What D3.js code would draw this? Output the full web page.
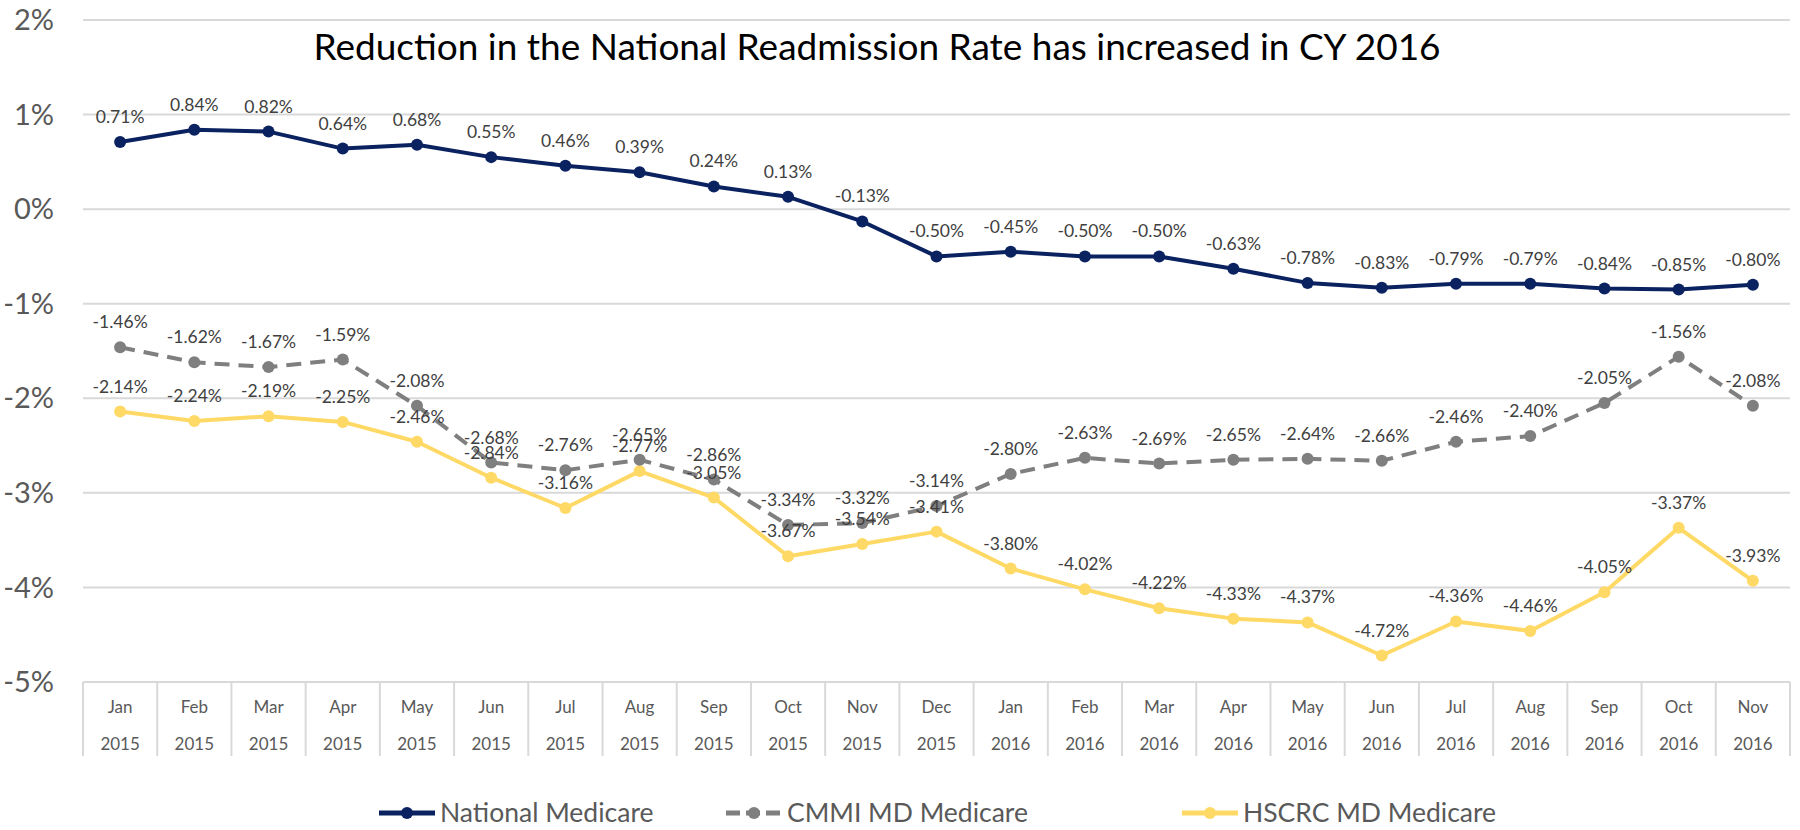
<!DOCTYPE html>
<html>
<head>
<meta charset="utf-8">
<script src="https://cdn.jsdelivr.net/npm/d3@7"></script>
<style>
  body { margin: 0; background: #fff; }
  text { font-family: Lato, "Open Sans", sans-serif; }
</style>
</head>
<body>
<script>
var months = ['Jan','Feb','Mar','Apr','May','Jun','Jul','Aug','Sep','Oct','Nov','Dec',
              'Jan','Feb','Mar','Apr','May','Jun','Jul','Aug','Sep','Oct','Nov'];
var years = ['2015','2015','2015','2015','2015','2015','2015','2015','2015','2015','2015','2015',
             '2016','2016','2016','2016','2016','2016','2016','2016','2016','2016','2016'];

var national = [0.71, 0.84, 0.82, 0.64, 0.68, 0.55, 0.46, 0.39, 0.24, 0.13, -0.13, -0.50,
                -0.45, -0.50, -0.50, -0.63, -0.78, -0.83, -0.79, -0.79, -0.84, -0.85, -0.80];
var cmmi = [-1.46, -1.62, -1.67, -1.59, -2.08, -2.68, -2.76, -2.65, -2.86, -3.34, -3.32, -3.14,
            -2.80, -2.63, -2.69, -2.65, -2.64, -2.66, -2.46, -2.40, -2.05, -1.56, -2.08];
var hscrc = [-2.14, -2.24, -2.19, -2.25, -2.46, -2.84, -3.16, -2.77, -3.05, -3.67, -3.54, -3.41,
             -3.80, -4.02, -4.22, -4.33, -4.37, -4.72, -4.36, -4.46, -4.05, -3.37, -3.93];

var yTicks = [2, 1, 0, -1, -2, -3, -4, -5];
var title = 'Reduction in the National Readmission Rate has increased in CY 2016';

var series = [
  { name: 'National Medicare', values: national, color: '#0b2260', dash: null },
  { name: 'CMMI MD Medicare', values: cmmi, color: '#7f7f7f', dash: '15,9' },
  { name: 'HSCRC MD Medicare', values: hscrc, color: '#ffd966', dash: null }
];

var W = 1800, H = 830;
var plotLeft = 83, plotRight = 1790, plotTop = 20, plotBottom = 682;

var svg = d3.select('body').append('svg').attr('width', W).attr('height', H);

var x = d3.scaleBand().domain(d3.range(months.length)).range([plotLeft, plotRight]);
var y = d3.scaleLinear().domain([-5, 2]).range([plotBottom, plotTop]);

// gridlines
svg.selectAll('line.grid').data(yTicks)
  .enter().append('line')
  .attr('class', 'grid')
  .attr('x1', plotLeft)
  .attr('x2', plotRight)
  .attr('y1', function(d) { return y(d); })
  .attr('y2', function(d) { return y(d); })
  .attr('stroke', '#d9d9d9')
  .attr('stroke-width', 2);

// y labels
svg.selectAll('text.ytick').data(yTicks)
  .enter().append('text')
  .attr('class', 'ytick')
  .attr('x', 54)
  .attr('y', function(d) { return y(d); })
  .attr('dy', '0.35em')
  .attr('text-anchor', 'end')
  .attr('font-size', 29)
  .attr('fill', '#595959')
  .text(function(d) { return d + '%'; });

// category box under the axis
var boxBottom = 756;
svg.selectAll('line.sep').data(d3.range(months.length + 1))
  .enter().append('line')
  .attr('class', 'sep')
  .attr('x1', function(d) { return plotLeft + d * x.bandwidth(); })
  .attr('x2', function(d) { return plotLeft + d * x.bandwidth(); })
  .attr('y1', plotBottom)
  .attr('y2', boxBottom)
  .attr('stroke', '#d9d9d9')
  .attr('stroke-width', 2);

svg.selectAll('text.month').data(months)
  .enter().append('text')
  .attr('class', 'month')
  .attr('x', function(d, i) { return x(i) + x.bandwidth() / 2; })
  .attr('y', 713)
  .attr('text-anchor', 'middle')
  .attr('font-size', 17)
  .attr('fill', '#595959')
  .text(function(d) { return d; });

svg.selectAll('text.year').data(years)
  .enter().append('text')
  .attr('class', 'year')
  .attr('x', function(d, i) { return x(i) + x.bandwidth() / 2; })
  .attr('y', 750)
  .attr('text-anchor', 'middle')
  .attr('font-size', 17)
  .attr('fill', '#595959')
  .text(function(d) { return d; });

// title
svg.append('text')
  .attr('x', 877)
  .attr('y', 60)
  .attr('text-anchor', 'middle')
  .attr('font-size', 37)
  .attr('fill', '#000')
  .text(title);

var line = d3.line()
  .x(function(d, i) { return x(i) + x.bandwidth() / 2; })
  .y(function(d) { return y(d); });

// lines (drawn in reverse so National ends on top)
series.slice().reverse().forEach(function(s) {
  var g = svg.append('g');
  g.append('path')
    .datum(s.values)
    .attr('d', line)
    .attr('fill', 'none')
    .attr('stroke', s.color)
    .attr('stroke-width', 4)
    .attr('stroke-linejoin', 'round')
    .attr('stroke-dasharray', s.dash);
  g.selectAll('circle').data(s.values)
    .enter().append('circle')
    .attr('cx', function(d, i) { return x(i) + x.bandwidth() / 2; })
    .attr('cy', function(d) { return y(d); })
    .attr('r', 6)
    .attr('fill', s.color);
});

// data labels
series.forEach(function(s) {
  svg.append('g').selectAll('text').data(s.values)
    .enter().append('text')
    .attr('x', function(d, i) { return x(i) + x.bandwidth() / 2; })
    .attr('y', function(d) { return y(d) - 19; })
    .attr('text-anchor', 'middle')
    .attr('font-size', 17.5)
    .attr('fill', '#404040')
    .text(function(d) { return d.toFixed(2) + '%'; });
});

// legend
var legendX = [379, 726, 1182];
var legend = svg.selectAll('g.legend').data(series)
  .enter().append('g')
  .attr('class', 'legend')
  .attr('transform', function(d, i) { return 'translate(' + legendX[i] + ',813)'; });
legend.append('line')
  .attr('x1', 0).attr('x2', 56)
  .attr('stroke', function(d) { return d.color; })
  .attr('stroke-width', 5)
  .attr('stroke-dasharray', function(d) { return d.dash ? '14,6' : null; });
legend.append('circle')
  .attr('cx', 28).attr('r', 6)
  .attr('fill', function(d) { return d.color; });
legend.append('text')
  .attr('x', 61)
  .attr('dy', '0.35em')
  .attr('font-size', 26.5)
  .attr('fill', '#595959')
  .text(function(d) { return d.name; });
</script>
</body>
</html>
